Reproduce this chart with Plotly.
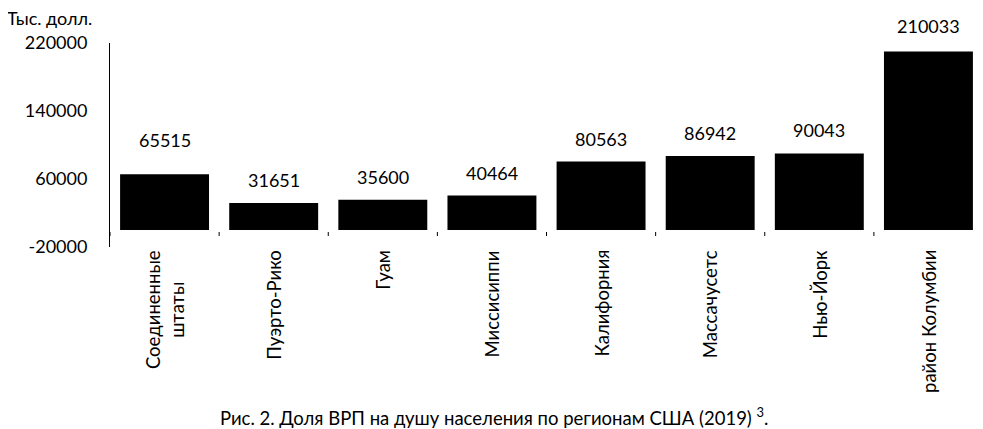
import plotly.graph_objects as go

categories = ["Соединенные<br>штаты", "Пуэрто-Рико", "Гуам", "Миссисиппи",
              "Калифорния", "Массачусетс", "Нью-Йорк", "район Колумбии"]
values = [65515, 31651, 35600, 40464, 80563, 86942, 90043, 210033]
y_ticks = [-20000, 60000, 140000, 220000]
label_gap = [21, 10, 10, 10, 10, 10, 10, 12]

FONT = "Lato"
fig = go.Figure()
fig.add_trace(go.Bar(x=list(range(len(categories))), y=values,
                     marker=dict(color="black", line=dict(width=0)),
                     width=0.815, hoverinfo="skip"))

for i, (v, g) in enumerate(zip(values, label_gap)):
    fig.add_annotation(x=i, y=v, text=str(v), showarrow=False,
                       yanchor="bottom", yshift=g,
                       font=dict(family=FONT, size=18, color="black"))
for i, c in enumerate(categories):
    fig.add_annotation(x=i, y=0, xref="x", yref="paper", text=c,
                       showarrow=False, textangle=-90, align="center",
                       yanchor="top", yshift=-1,
                       font=dict(family=FONT, size=18.5, color="black"))

# category boundary tick marks at the zero line
for i in range(len(categories) + 1):
    fig.add_shape(type="line", xref="x", yref="y", x0=i - 0.5, x1=i - 0.5,
                  ysizemode="pixel", yanchor=0, y0=-2, y1=-6,
                  line=dict(color="black", width=1))

fig.add_annotation(x=0, y=1, xref="paper", yref="paper", xshift=-104, yshift=37,
                   xanchor="left", yanchor="top", text="Тыс. долл.", showarrow=False,
                   borderpad=0,
                   font=dict(family=FONT, size=18, color="black"))
fig.add_annotation(x=0.44, y=0, xref="paper", yref="paper", yshift=-155,
                   xanchor="center", yanchor="top",
                   text="Рис. 2. Доля ВРП на душу населения по регионам США (2019) <sup>3</sup>.",
                   showarrow=False, font=dict(family=FONT, size=18.5, color="black"))

fig.update_layout(
    width=975, height=421,
    margin=dict(l=102, r=0, t=35, b=182),
    plot_bgcolor="white", paper_bgcolor="white",
    showlegend=False, bargap=0.185,
    font=dict(family=FONT, size=18, color="black"),
)
fig.update_xaxes(range=[-0.5, len(categories) - 0.5], showticklabels=False,
                 showgrid=False, zeroline=False, showline=False, ticks="")
fig.update_yaxes(range=[-20000, 220000], tickvals=y_ticks,
                 ticktext=[str(t) for t in y_ticks], showgrid=False,
                 zeroline=False, showline=True, linecolor="black", linewidth=1,
                 ticks="", ticklabelstandoff=18,
                 tickfont=dict(family=FONT, size=18, color="black"))

fig.write_html("out.html")
